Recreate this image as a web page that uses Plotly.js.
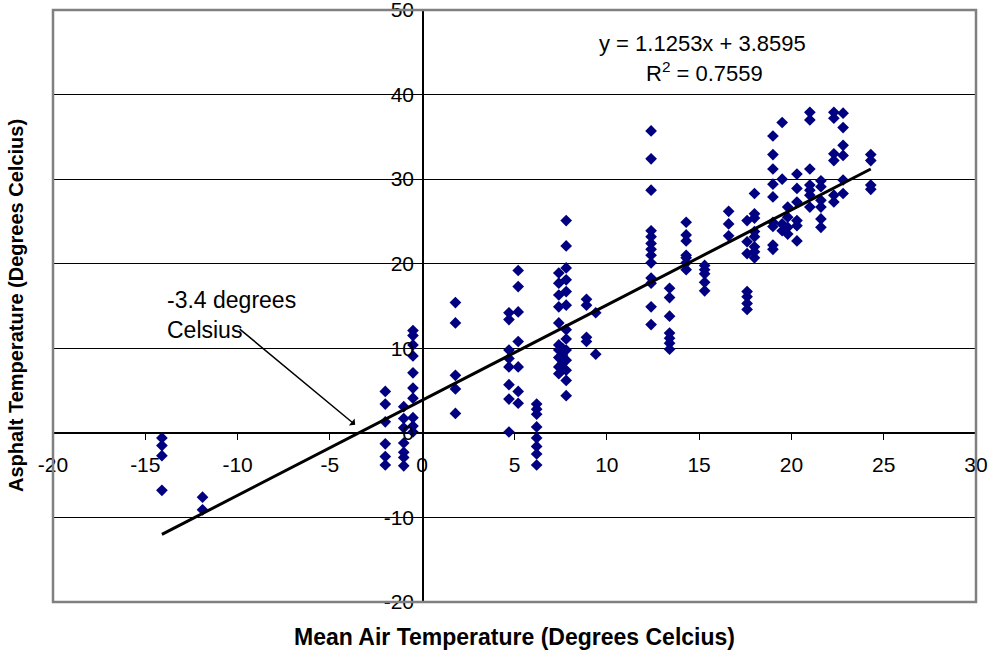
<!DOCTYPE html>
<html>
<head>
<meta charset="utf-8">
<script src="https://cdn.plot.ly/plotly-3.0.1.min.js"></script>
<style>html,body{margin:0;padding:0;background:#fff;}#chart{width:989px;height:651px;}</style>
</head>
<body>
<div id="chart"></div>
<script>
// Mean air temperature (x) and asphalt temperature (y), degrees Celsius
const airTemp = [
  -14.1,-14.1,-14.1,-14.1,
  -11.9,-11.9,
  -2.0,-2.0,-2.0,-2.0,-2.0,-2.0,
  -1.0,-1.0,-1.0,-1.0,-1.0,-1.0,-1.0,
  -0.5,-0.5,-0.5,-0.5,-0.5,-0.5,-0.5,-0.5,-0.5,-0.5,
  1.8,1.8,1.8,1.8,1.8,
  4.7,4.7,4.7,4.7,4.7,4.7,4.7,4.7,
  5.2,5.2,5.2,5.2,5.2,5.2,5.2,
  6.2,6.2,6.2,6.2,6.2,6.2,6.2,6.2,
  7.4,7.4,7.4,7.4,7.4,7.4,7.4,7.4,7.4,7.4,
  7.8,7.8,7.8,7.8,7.8,7.8,7.8,7.8,7.8,7.8,7.8,7.8,7.8,
  7.6,7.6,7.6,
  8.9,8.9,8.9,8.9,
  9.4,9.4,
  12.4,12.4,12.4,12.4,12.4,12.4,12.4,12.4,12.4,12.4,12.4,12.4,12.4,
  13.4,13.4,13.4,13.4,13.4,13.4,13.4,
  14.3,14.3,14.3,14.3,14.3,14.3,14.3,
  15.3,15.3,15.3,15.3,15.3,
  16.6,16.6,16.6,
  17.6,17.6,17.6,17.6,17.6,17.6,17.6,
  18.0,18.0,18.0,18.0,18.0,18.0,18.0,18.0,
  19.0,19.0,19.0,19.0,19.0,19.0,19.0,19.0,19.0,
  19.5,19.5,19.5,19.5,
  19.8,19.8,19.8,19.8,
  20.3,20.3,20.3,20.3,20.3,20.3,
  21.0,21.0,21.0,21.0,21.0,21.0,21.0,
  21.6,21.6,21.6,21.6,21.6,21.6,
  22.3,22.3,22.3,22.3,22.3,22.3,
  22.8,22.8,22.8,22.8,22.8,22.8,
  24.3,24.3,24.3,24.3
];
const asphaltTemp = [
  -0.6,-1.5,-2.7,-6.8,
  -7.6,-9.1,
  4.9,3.4,1.3,-1.3,-2.8,-3.8,
  3.1,1.7,0.6,-1.2,-2.3,-2.9,-3.9,
  12.1,11.5,10.4,9.1,7.1,5.3,4.1,1.8,0.8,0.1,
  15.4,13.0,6.8,5.2,2.3,
  14.2,13.4,9.8,8.8,7.8,5.7,4.0,0.1,
  19.2,17.3,14.3,10.8,7.8,4.9,3.5,
  3.4,2.8,2.2,0.7,-0.6,-1.6,-2.5,-3.8,
  18.9,17.7,16.3,14.9,13.0,10.4,9.8,8.9,7.8,7.0,
  25.1,22.1,19.5,18.1,16.7,15.1,12.2,11.1,9.8,8.6,7.4,6.2,4.4,
  10.0,9.2,8.2,
  15.8,15.1,11.3,10.8,
  14.2,9.3,
  35.7,32.4,28.7,23.9,23.2,22.4,21.7,21.0,20.1,18.3,17.7,14.9,12.8,
  17.1,16.0,13.8,11.8,11.2,10.6,9.9,
  24.9,23.4,22.7,21.0,20.7,20.1,19.3,
  19.8,19.3,18.8,17.8,16.8,
  26.2,24.7,23.3,
  25.1,22.6,21.2,16.7,16.1,15.3,14.6,
  28.3,25.9,25.4,23.8,23.2,22.0,21.4,20.7,
  35.1,32.9,31.2,29.4,27.9,24.9,24.4,22.2,21.7,
  36.7,30.0,24.7,23.9,
  26.7,25.5,24.3,23.5,
  30.6,28.9,27.3,25.1,24.5,22.7,
  37.9,37.0,31.2,29.3,28.7,28.1,26.7,
  29.8,29.1,27.5,26.7,25.3,24.3,
  37.9,37.2,33.0,32.2,28.1,27.3,
  37.8,36.1,34.0,32.8,29.9,28.3,
  32.9,32.2,29.3,28.8
];
// Linear trendline reported on the chart
const slope = 1.1253;
const intercept = 3.8595;
const rSquared = 0.7559;
const xTickVals = [-20,-15,-10,-5,0,5,10,15,20,25,30];
const yTickVals = [-20,-10,0,10,20,30,40,50];

const xMin = Math.min(...airTemp), xMax = Math.max(...airTemp);
const trendX = [xMin, xMax];
const trendY = trendX.map(v => slope * v + intercept);

const FONT = 'Liberation Sans, Arial, sans-serif';

const traces = [
  {
    x: airTemp, y: asphaltTemp, type: 'scatter', mode: 'markers',
    marker: {symbol: 'diamond', size: 9, color: '#000080', line: {width: 0}},
    hoverinfo: 'x+y', showlegend: false
  },
  {
    x: trendX, y: trendY, type: 'scatter', mode: 'lines',
    line: {color: '#000000', width: 3}, showlegend: false, hoverinfo: 'skip'
  }
];

const layout = {
  width: 989, height: 651,
  margin: {l: 53, r: 13, t: 10, b: 49, pad: 0},
  paper_bgcolor: '#ffffff', plot_bgcolor: '#ffffff',
  font: {family: FONT, color: '#000000', size: 21},
  showlegend: false,
  xaxis: {
    range: [-20, 30], tickvals: xTickVals, ticktext: xTickVals.map(String),
    showgrid: false, zeroline: false,
    showline: true, linecolor: '#000000', linewidth: 1.5,
    anchor: 'free', position: 20/70,
    ticks: 'outside', ticklen: 6, tickcolor: '#000000', tickwidth: 1,
    ticklabelstandoff: 6, ticklabeloverflow: 'allow',
    tickfont: {family: FONT, size: 21, color: '#000000'}
  },
  yaxis: {
    range: [-20, 50], tickvals: yTickVals, ticktext: yTickVals.map(String),
    showgrid: true, gridcolor: '#000000', gridwidth: 1,
    zeroline: false,
    showline: true, linecolor: '#000000', linewidth: 1.5,
    anchor: 'free', position: 20/50,
    ticks: 'outside', ticklen: 6, tickcolor: '#000000', tickwidth: 1,
    ticklabelstandoff: -2, ticklabeloverflow: 'allow',
    tickfont: {family: FONT, size: 21, color: '#000000'}
  },
  shapes: [
    {type: 'rect', xref: 'paper', yref: 'paper', x0: 0, x1: 1, y0: 0, y1: 1,
     line: {color: '#808080', width: 2.5}, layer: 'above'}
  ],
  annotations: [
    {xref: 'paper', yref: 'paper', x: 0.5, y: 0, yshift: -35, yanchor: 'middle',
     text: '<b>Mean Air Temperature (Degrees Celcius)</b>', showarrow: false,
     font: {family: FONT, size: 23, color: '#000000'}},
    {xref: 'paper', yref: 'paper', x: 0, xshift: -37, y: 0.5, textangle: -90,
     xanchor: 'center', yanchor: 'middle',
     text: '<b>Asphalt Temperature (Degrees Celcius)</b>', showarrow: false,
     font: {family: FONT, size: 20, color: '#000000'}},
    {xref: 'paper', yref: 'paper', x: 0.704, y: 0.944, xanchor: 'center', yanchor: 'middle',
     text: 'y = ' + slope + 'x + ' + intercept, showarrow: false,
     font: {family: FONT, size: 22, color: '#000000'}},
    {xref: 'paper', yref: 'paper', x: 0.706, y: 0.895, xanchor: 'center', yanchor: 'middle',
     text: 'R<sup>2</sup> = ' + rSquared, showarrow: false,
     font: {family: FONT, size: 22, color: '#000000'}},
    {xref: 'paper', yref: 'paper', x: 0.1213, y: 0.5355, xanchor: 'left', yanchor: 'top',
     align: 'left', text: '-3.4 degrees<br>Celsius', showarrow: false,
     font: {family: FONT, size: 23, color: '#000000'}},
    {xref: 'x', yref: 'y', x: -3.63, y: 0.95, text: '', showarrow: true,
     ax: -117, ay: -97, arrowhead: 1, arrowsize: 1, arrowwidth: 1.5, arrowcolor: '#000000'}
  ]
};

Plotly.newPlot('chart', traces, layout, {staticPlot: true, displayModeBar: false});
</script>
</body>
</html>
